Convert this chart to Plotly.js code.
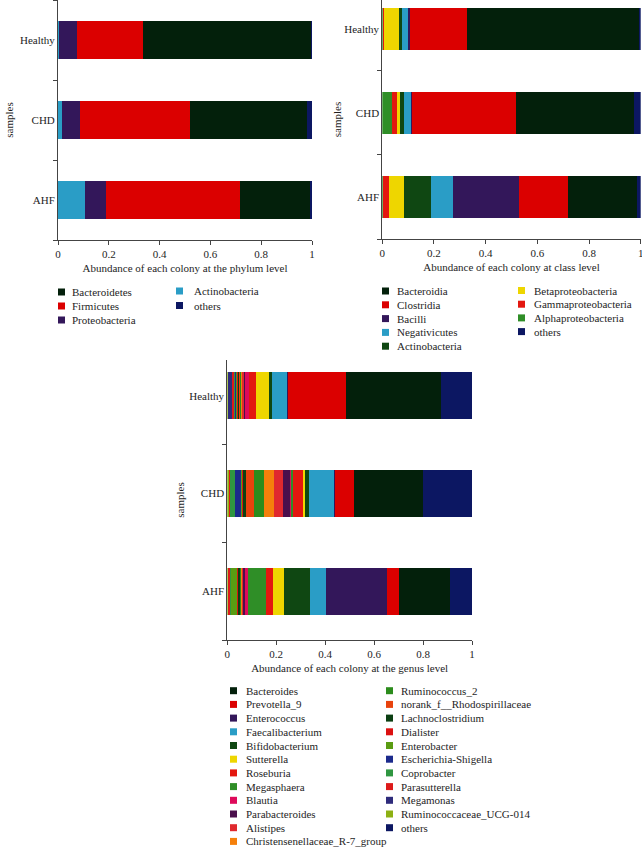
<!DOCTYPE html>
<html>
<head>
<meta charset="utf-8">
<script src="https://cdn.plot.ly/plotly-3.0.1.min.js"></script>
<style>
html,body{margin:0;padding:0;background:#fff;}
#chart{width:642px;height:847px;}
</style>
</head>
<body>
<div id="chart"></div>
<script>
// ---------- DATA ----------
const samples = ['AHF', 'CHD', 'Healthy'];

// Phylum level (legend order)
const phylumNames = ['Bacteroidetes', 'Firmicutes', 'Proteobacteria', 'Actinobacteria', 'others'];
const phylumHealthy = [0.662, 0.260, 0.068, 0.005, 0.005];
const phylumCHD     = [0.460, 0.433, 0.070, 0.017, 0.020];
const phylumAHF     = [0.274, 0.528, 0.081, 0.108, 0.009];

// Class level (legend order)
const classNames = ['Bacteroidia', 'Clostridia', 'Bacilli', 'Negativicutes', 'Actinobacteria',
  'Betaproteobacteria', 'Gammaproteobacteria', 'Alphaproteobacteria', 'others'];
const classHealthy = [0.669, 0.219, 0.007, 0.025, 0.009, 0.058, 0.006, 0.002, 0.005];
const classCHD     = [0.459, 0.402, 0.003, 0.027, 0.017, 0.012, 0.019, 0.036, 0.025];
const classAHF     = [0.270, 0.188, 0.257, 0.084, 0.103, 0.058, 0.026, 0.001, 0.013];

// Genus level (legend order)
const genusNames = ['Bacteroides', 'Prevotella_9', 'Enterococcus', 'Faecalibacterium', 'Bifidobacterium',
  'Sutterella', 'Roseburia', 'Megasphaera', 'Blautia', 'Parabacteroides', 'Alistipes',
  'Christensenellaceae_R-7_group', 'Ruminococcus_2', 'norank_f__Rhodospirillaceae', 'Lachnoclostridium',
  'Dialister', 'Enterobacter', 'Escherichia-Shigella', 'Coprobacter', 'Parasutterella', 'Megamonas',
  'Ruminococcaceae_UCG-014', 'others'];
const genusHealthy = [0.389, 0.238, 0.002, 0.062, 0.010, 0.054, 0.029, 0.000, 0.016, 0.006, 0.006,
  0.005, 0.005, 0.004, 0.005, 0.004, 0.002, 0.006, 0.004, 0.006, 0.018, 0.002, 0.127];
const genusCHD = [0.282, 0.080, 0.002, 0.103, 0.018, 0.008, 0.040, 0.006, 0.007, 0.027, 0.039,
  0.037, 0.044, 0.033, 0.010, 0.006, 0.002, 0.025, 0.020, 0.004, 0.002, 0.006, 0.199];
const genusAHF = [0.210, 0.047, 0.251, 0.064, 0.108, 0.045, 0.027, 0.072, 0.012, 0.011, 0.003,
  0.002, 0.005, 0.003, 0.008, 0.004, 0.022, 0.001, 0.004, 0.009, 0.001, 0.001, 0.090];

// ---------- STYLES ----------
const phylumColors = ['#03200b', '#db0000', '#33175a', '#2a9dc6', '#0c1762'];
const classColors = ['#03200b', '#db0000', '#33175a', '#2a9dc6', '#0f4712', '#eed600', '#e3170f', '#2f8e27', '#0c1762'];
const genusColors = ['#03200b', '#db0000', '#33175a', '#2a9dc6', '#0f4712', '#eed600', '#e3170f', '#2f8e27',
  '#de0a5a', '#4b0f4c', '#e0292e', '#f5800b', '#2c8c1c', '#e8430d', '#0b3f12', '#dc1111', '#5a9c12',
  '#1b2a8c', '#2f9641', '#dd1a1a', '#2e2b7b', '#8db013', '#0c1762'];

const W = 642, H = 847;
const px = x => x / W;
const py = y => 1 - y / H;
const FONT = "'Liberation Serif', 'DejaVu Serif', serif";
const TXT = '#1e1e1e';

const traces = [];
const shapes = [];
const annotations = [];

function addChart(names, colors, byHealthy, byCHD, byAHF, xa, ya, barWidth) {
  const n = names.length;
  // stacking order: reverse of legend (without 'others'), then 'others'
  const order = [];
  for (let i = n - 2; i >= 0; i--) order.push(i);
  order.push(n - 1);
  order.forEach(i => {
    traces.push({
      type: 'bar', orientation: 'h',
      y: samples,
      x: [byAHF[i], byCHD[i], byHealthy[i]],
      name: names[i],
      marker: { color: colors[i], line: { width: 0 } },
      width: barWidth,
      xaxis: xa, yaxis: ya,
      showlegend: false,
      hoverinfo: 'skip'
    });
  });
}

function addLegend(names, colors, start, end, swX, txX, y0, dy) {
  for (let i = start; i < end; i++) {
    const y = y0 + (i - start) * dy;
    shapes.push({
      type: 'rect', xref: 'paper', yref: 'paper',
      x0: px(swX), x1: px(swX + 7), y0: py(y - 3.5), y1: py(y + 3.5),
      fillcolor: colors[i], line: { width: 0 }
    });
    annotations.push({
      xref: 'paper', yref: 'paper', x: px(txX), y: py(y),
      xanchor: 'left', yanchor: 'middle', showarrow: false,
      text: names[i], font: { family: FONT, size: 11, color: TXT }
    });
  }
}

addChart(phylumNames, phylumColors, phylumHealthy, phylumCHD, phylumAHF, 'x', 'y', 0.475);
addChart(classNames, classColors, classHealthy, classCHD, classAHF, 'x2', 'y2', 0.49);
addChart(genusNames, genusColors, genusHealthy, genusCHD, genusAHF, 'x3', 'y3', 0.48);

addLegend(phylumNames, phylumColors, 0, 3, 58, 70, 292, 14);
addLegend(phylumNames, phylumColors, 3, 5, 176, 192, 291, 14.5);
addLegend(classNames, classColors, 0, 5, 382, 395, 291, 13.8);
addLegend(classNames, classColors, 5, 9, 518, 532, 290.5, 13.7);
addLegend(genusNames, genusColors, 0, 12, 230, 244, 690.7, 13.7);
addLegend(genusNames, genusColors, 12, 23, 386, 399, 690.7, 13.7);

function xAxis(domain, anchor, title) {
  return {
    domain: domain, anchor: anchor, range: [0, 1], dtick: 0.2, tick0: 0,
    showline: true, linecolor: '#444', linewidth: 1,
    ticks: 'outside', ticklen: 4, tickcolor: '#444',
    ticklabeloverflow: 'allow',
    showgrid: false, zeroline: false, fixedrange: true,
    tickfont: { family: FONT, size: 11, color: TXT },
    title: { text: title, font: { family: FONT, size: 11, color: TXT }, standoff: 5 }
  };
}
function yAxis(domain, anchor, range, standoff) {
  return {
    domain: domain, anchor: anchor, type: 'category',
    categoryorder: 'array', categoryarray: samples, range: range,
    showline: true, linecolor: '#444', linewidth: 1,
    ticks: 'outside', ticklen: 4, tickcolor: '#444', tickson: 'boundaries',
    showgrid: false, zeroline: false, fixedrange: true,
    tickfont: { family: FONT, size: 11, color: TXT },
    title: { text: 'samples', font: { family: FONT, size: 11, color: TXT }, standoff: standoff }
  };
}

const layout = {
  width: W, height: H,
  margin: { l: 0, r: 0, t: 0, b: 0, pad: 0 },
  paper_bgcolor: '#fff', plot_bgcolor: '#fff',
  barmode: 'stack',
  showlegend: false,
  font: { family: FONT, size: 11, color: TXT },
  xaxis: xAxis([px(58), px(312)], 'y', 'Abundance of each colony at the phylum level'),
  yaxis: yAxis([py(240), 1], 'x', [-0.5, 2.5], 4),
  xaxis2: xAxis([px(382.3), px(640.7)], 'y2', 'Abundance of each colony at class level'),
  yaxis2: yAxis([py(239), 1], 'x2', [-0.5, 2.345], 0),
  xaxis3: xAxis([px(227.3), px(472)], 'y3', 'Abundance of each colony at the genus level'),
  yaxis3: yAxis([py(640), py(360)], 'x3', [-0.5, 2.367], 2),
  shapes: shapes,
  annotations: annotations
};

Plotly.newPlot('chart', traces, layout, { staticPlot: true, displayModeBar: false });
</script>
</body>
</html>
